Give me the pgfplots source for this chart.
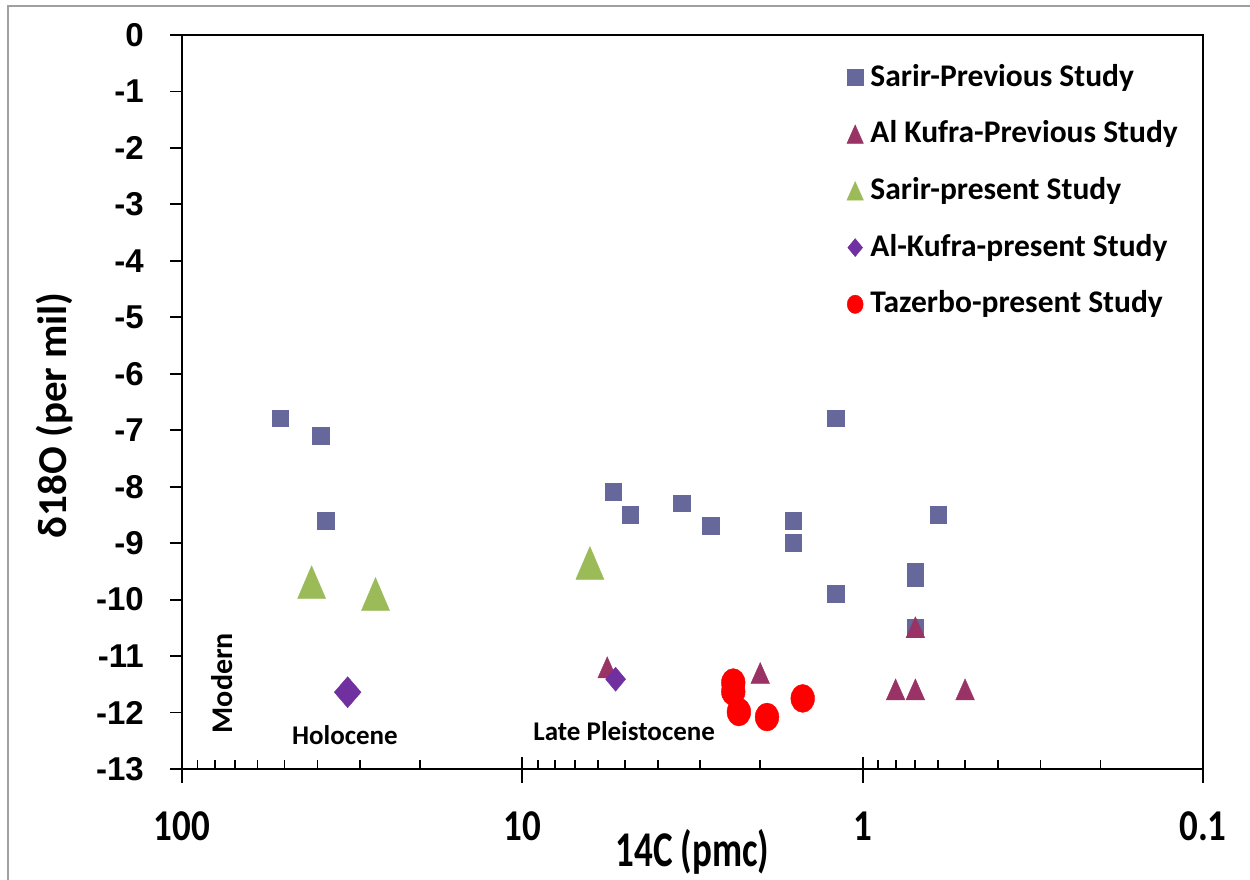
\documentclass[border=0pt]{standalone}
\usepackage{pgfplots}
\pgfplotsset{compat=1.18}
\usepackage{fontspec}
\setmainfont{Carlito}
\newfontfamily\arialfont{Liberation Sans}
\definecolor{sarirprev}{RGB}{102,103,155}
\definecolor{kufraprev}{RGB}{153,51,102}
\definecolor{sarirpres}{RGB}{155,187,89}
\definecolor{kufrapres}{RGB}{112,48,160}
\definecolor{tazred}{RGB}{255,0,0}
\definecolor{frameg}{RGB}{160,160,160}
\begin{document}
\begin{tikzpicture}[x=1pt,y=1pt]
\useasboundingbox (0,0) rectangle (1250,880);
\draw[frameg, line width=2pt] (8,0) -- (8,874) -- (1250,874);
\begin{axis}[
  at={(182pt,111pt)}, anchor=south west,
  scale only axis, width=1021pt, height=734pt,
  xmode=log, x dir=reverse, xmin=0.1, xmax=100,
  ymin=-13, ymax=0,
  /pgf/number format/assume math mode=true,
  xtick={0.1,1,10,100}, xticklabels={0.1,1,10,100},
  ytick={-13,-12,-11,-10,-9,-8,-7,-6,-5,-4,-3,-2,-1,0},
  yticklabels={-13,-12,-11,-10,-9,-8,-7,-6,-5,-4,-3,-2,-1,0},
  xtick pos=left, ytick pos=left,
  xtick align=inside, ytick align=outside,
  major tick length=12pt, minor tick length=9pt,
  extra x ticks={0.1,1,10,100}, extra x tick labels={},
  extra x tick style={xtick align=outside, major tick length=14pt},
  tick style={black, line width=1.8pt},
  axis line style={black, line width=2.8pt},
  xticklabel style={font=\fontsize{44}{44}\bfseries\selectfont, xscale=0.84, inner sep=0pt, anchor=north, yshift=-42.7pt},
  yticklabel style={font=\fontsize{33}{33}\arialfont\bfseries\selectfont, inner sep=0pt, anchor=east, xshift=-26pt},
  xlabel={14C (pmc)},
  xlabel style={at={(axis description cs:0.5,-0.1322)}, anchor=base, inner sep=0pt, font=\fontsize{50}{50}\bfseries\selectfont, xscale=0.74},
  ylabel={δ18O (per mil)},
  ylabel style={at={(axis description cs:-0.1244,0.482)}, anchor=center, inner sep=0pt, font=\fontsize{41}{41}\bfseries\selectfont},
  legend style={at={(axis description cs:0.6513,0.9632)}, anchor=north west, draw=none, fill=none,
    font=\fontsize{31.5}{31.5}\bfseries\selectfont, row sep=25.7pt, column sep=7pt, inner sep=0pt, outer sep=0pt,
    nodes={inner sep=0pt, text height=24pt, text depth=7pt, anchor=west}},
  legend cell align=left,
  legend image code/.code={\draw[#1] plot coordinates {(0pt,0pt)};},
]
\addlegendimage{only marks, mark=square*, color=sarirprev, mark size=8pt}
\addlegendimage{only marks, mark=triangle*, color=kufraprev, mark size=9.5pt, mark options={yshift=-3pt, yscale=1.3}}
\addlegendimage{only marks, mark=triangle*, color=sarirpres, mark size=9.5pt, mark options={yshift=-3pt, yscale=1.3}}
\addlegendimage{only marks, mark=diamond*, color=kufrapres, mark size=9pt, mark options={xscale=1.1}}
\addlegendimage{only marks, mark=*, color=tazred, mark size=8pt, mark options={yscale=1.15}}
\legend{Sarir-Previous Study, Al Kufra-Previous Study, Sarir-present Study, Al-Kufra-present Study, Tazerbo-present Study}

% Sarir - previous study
\addplot[forget plot, only marks, mark=square*, color=sarirprev, mark size=8.3pt] coordinates {
 (51.4,-6.79) (39.2,-7.10) (37.8,-8.60)
 (5.41,-8.09) (4.82,-8.50) (3.40,-8.29) (2.80,-8.69)
 (1.60,-8.60) (1.60,-8.99) (1.20,-6.79) (1.20,-9.90)
 (0.70,-9.50) (0.70,-9.61) (0.70,-10.49) (0.60,-8.50)
};
% Al Kufra - previous study
\addplot[forget plot, only marks, mark=triangle*, color=kufraprev, mark size=10.8pt, mark options={yshift=-3.5pt, yscale=1.3}] coordinates {
 (5.63,-11.20) (2.00,-11.30) (0.80,-11.59) (0.70,-10.49) (0.70,-11.59) (0.50,-11.59)
};
% Sarir - present study
\addplot[forget plot, only marks, mark=triangle*, color=sarirpres, mark size=16.2pt, mark options={yshift=-5.5pt, yscale=1.35}] coordinates {
 (41.6,-9.69) (27.0,-9.90) (6.33,-9.35)
};
% Al-Kufra - present study
\addplot[forget plot, only marks, mark=diamond*, color=kufrapres, mark size=15.5pt, mark options={xscale=1.15}] coordinates {
 (32.6,-11.64)
};
\addplot[forget plot, only marks, mark=diamond*, color=kufrapres, mark size=12pt, mark options={xscale=1.11}] coordinates {
 (5.32,-11.41)
};
% Tazerbo - present study
\addplot[forget plot, only marks, mark=*, color=tazred, mark size=11.85pt, mark options={yscale=1.18}] coordinates {
 (2.40,-11.47) (2.40,-11.63) (2.31,-11.99) (1.91,-12.08) (1.50,-11.75)
};

\node[font=\fontsize{30}{30}\bfseries\selectfont, rotate=90, inner sep=0pt] at (axis cs:76.3,-11.48) {Modern};
\node[font=\fontsize{27}{27}\bfseries\selectfont, inner sep=0pt] at (axis cs:33.2,-12.40) {Holocene};
\node[font=\fontsize{27}{27}\bfseries\selectfont, inner sep=0pt] at (axis cs:5.02,-12.33) {Late Pleistocene};
\end{axis}
\end{tikzpicture}
\end{document}
